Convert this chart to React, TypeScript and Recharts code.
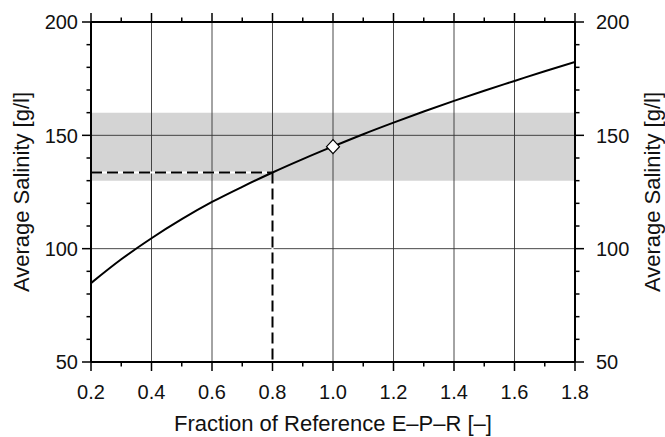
import { ComposedChart, Line, Scatter, XAxis, YAxis, ReferenceArea, ReferenceLine } from "recharts";

const fraction = [0.2, 0.3, 0.4, 0.5, 0.6, 0.7, 0.8, 0.9, 1.0, 1.1, 1.2, 1.3, 1.4, 1.5, 1.6, 1.7, 1.8];
const salinity = [84.8, 95.3, 104.6, 113.0, 120.6, 127.3, 133.6, 139.5, 145.1, 150.5, 155.6, 160.5, 165.2, 169.7, 174.0, 178.3, 182.4];

const xTicks = [0.2, 0.3, 0.4, 0.5, 0.6, 0.7, 0.8, 0.9, 1.0, 1.1, 1.2, 1.3, 1.4, 1.5, 1.6, 1.7, 1.8];
const yTicks = [50, 60, 70, 80, 90, 100, 110, 120, 130, 140, 150, 160, 170, 180, 190, 200];
const xGrid = [0.4, 0.6, 0.8, 1.0, 1.2, 1.4, 1.6];
const yGrid = [100, 150];
const band = [130, 160];
const refPoint = [{ f: 1.0, s: 145 }];
const readOff = { f: 0.8, s: 133.6 };

const data = fraction.map((f, i) => ({ f, s: salinity[i] }));

const FONT = "'Liberation Sans', Arial, Helvetica, sans-serif";
const isMajorX = (v: number) => Math.round(v * 10) % 2 === 0;
const isMajorY = (v: number) => Math.round(v) % 50 === 0;

function XTick(props: any) {
  const { x, y, payload, orient } = props;
  const v = payload.value;
  const major = isMajorX(v);
  const dir = orient === "top" ? -1 : 1;
  const len = major ? 9 : 4.5;
  return (
    <g>
      <line x1={x} x2={x} y1={y} y2={y + dir * len} stroke="#000" strokeWidth={1.5} />
      {major && orient === "bottom" && (
        <text x={x} y={y + 30} dy="0.36em" textAnchor="middle" fontSize={20} fontFamily={FONT} fill="#111">
          {v.toFixed(1)}
        </text>
      )}
    </g>
  );
}

function YTick(props: any) {
  const { x, y, payload, orient } = props;
  const v = payload.value;
  const major = isMajorY(v);
  const dir = orient === "right" ? 1 : -1;
  const len = major ? 9 : 4.5;
  return (
    <g>
      <line x1={x} x2={x + dir * len} y1={y} y2={y} stroke="#000" strokeWidth={1.5} />
      {major && (
        <text
          x={orient === "right" ? x + 21 : x - 13}
          y={y}
          dy="0.36em"
          textAnchor={orient === "right" ? "start" : "end"}
          fontSize={20}
          fontFamily={FONT}
          fill="#111"
        >
          {v}
        </text>
      )}
    </g>
  );
}

const Diamond = (p: any) => (
  <path
    d={`M${p.cx},${p.cy - 7} L${p.cx + 6.5},${p.cy} L${p.cx},${p.cy + 7} L${p.cx - 6.5},${p.cy} Z`}
    fill="#fff"
    stroke="#000"
    strokeWidth={1.2}
  />
);

export default function App() {
  const axisLine = { stroke: "#000", strokeWidth: 2 };
  return (
    <div style={{ position: "absolute", left: 0, top: 0, width: 665, height: 437, background: "#fff" }}>
      <ComposedChart width={665} height={437} data={data} margin={{ top: 0, right: 0, bottom: 0, left: 0 }}>
        <XAxis
          dataKey="f"
          type="number"
          domain={[0.2, 1.8]}
          ticks={xTicks}
          interval={0}
          tickSize={0}
          tickMargin={0}
          tick={<XTick orient="bottom" />}
          axisLine={axisLine}
          height={75}
          allowDataOverflow
          label={{ value: "Fraction of Reference E–P–R [–]", position: "center", dy: 24, fontSize: 22, fontFamily: FONT, fill: "#111" }}
        />
        <XAxis
          xAxisId="top"
          orientation="top"
          dataKey="f"
          type="number"
          domain={[0.2, 1.8]}
          ticks={xTicks}
          interval={0}
          tickSize={0}
          tickMargin={0}
          tick={<XTick orient="top" />}
          axisLine={axisLine}
          height={22}
          allowDataOverflow
        />
        <YAxis
          type="number"
          domain={[50, 200]}
          ticks={yTicks}
          interval={0}
          tickSize={0}
          tickMargin={0}
          tick={<YTick orient="left" />}
          axisLine={axisLine}
          width={91}
          allowDataOverflow
          label={{ value: "Average Salinity [g/l]", angle: -90, position: "center", dx: -24, fontSize: 22, fontFamily: FONT, fill: "#111" }}
        />
        <YAxis
          yAxisId="right"
          orientation="right"
          type="number"
          domain={[50, 200]}
          ticks={yTicks}
          interval={0}
          tickSize={0}
          tickMargin={0}
          tick={<YTick orient="right" />}
          axisLine={axisLine}
          width={90}
          allowDataOverflow
          label={{ value: "Average Salinity [g/l]", angle: -90, position: "center", dx: 32, fontSize: 22, fontFamily: FONT, fill: "#111" }}
        />
        <ReferenceArea y1={band[0]} y2={band[1]} fill="#d4d4d4" fillOpacity={1} stroke="none" />
        {xGrid.map((v) => (
          <ReferenceLine key={`vx-${v}`} x={v} stroke="#333" strokeWidth={0.9} />
        ))}
        {yGrid.map((v) => (
          <ReferenceLine key={`hy-${v}`} y={v} stroke="#333" strokeWidth={0.9} />
        ))}
        <ReferenceLine segment={[{ x: 0.2, y: readOff.s }, { x: readOff.f, y: readOff.s }]} stroke="#fff" strokeWidth={2} />
        <ReferenceLine segment={[{ x: readOff.f, y: readOff.s }, { x: readOff.f, y: 50 }]} stroke="#fff" strokeWidth={2} />
        <ReferenceLine segment={[{ x: 0.2, y: readOff.s }, { x: readOff.f, y: readOff.s }]} stroke="#000" strokeWidth={2} strokeDasharray="11 5" />
        <ReferenceLine segment={[{ x: readOff.f, y: readOff.s }, { x: readOff.f, y: 50 }]} stroke="#000" strokeWidth={2} strokeDasharray="11 5" />
        <Line dataKey="s" type="monotone" stroke="#000" strokeWidth={2} dot={false} activeDot={false} isAnimationActive={false} />
        <Scatter data={refPoint} dataKey="s" shape={Diamond} isAnimationActive={false} />
      </ComposedChart>
    </div>
  );
}
